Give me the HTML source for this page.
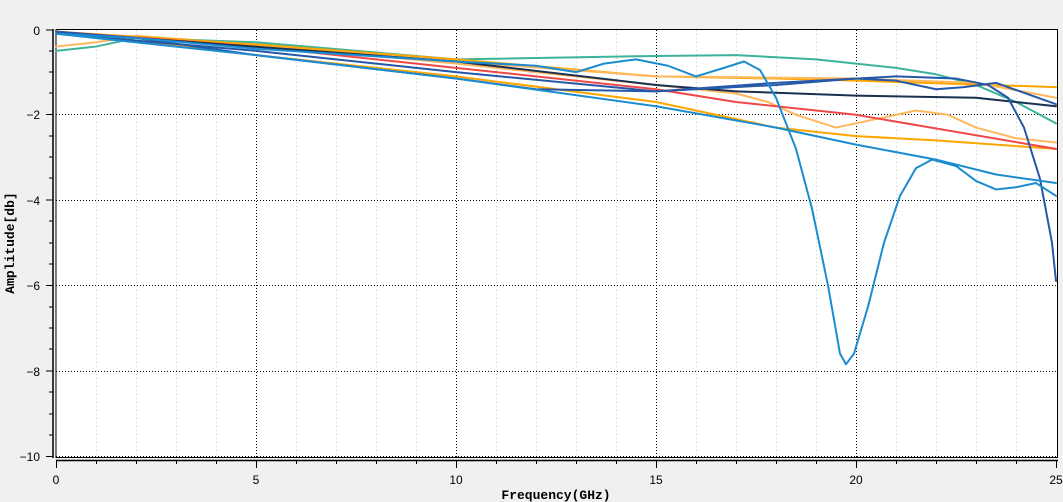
<!DOCTYPE html>
<html><head><meta charset="utf-8"><style>
html,body{margin:0;padding:0;background:#f0f0f0;}
svg{display:block;font-family:"Liberation Mono",monospace;}
.c{fill:none;stroke-width:2;vector-effect:non-scaling-stroke;stroke-linejoin:round;stroke-linecap:round;}
</style></head><body>
<svg width="1063" height="502" xmlns="http://www.w3.org/2000/svg">
<rect x="56" y="29" width="1002" height="429" fill="#fff"/>
<g stroke="#c8c8c8" stroke-width="1" stroke-dasharray="1,3">
<line x1="96.5" y1="30" x2="96.5" y2="457"/><line x1="136.5" y1="30" x2="136.5" y2="457"/><line x1="176.5" y1="30" x2="176.5" y2="457"/><line x1="216.5" y1="30" x2="216.5" y2="457"/>
<line x1="296.5" y1="30" x2="296.5" y2="457"/><line x1="336.5" y1="30" x2="336.5" y2="457"/><line x1="376.5" y1="30" x2="376.5" y2="457"/><line x1="416.5" y1="30" x2="416.5" y2="457"/>
<line x1="496.5" y1="30" x2="496.5" y2="457"/><line x1="536.5" y1="30" x2="536.5" y2="457"/><line x1="576.5" y1="30" x2="576.5" y2="457"/><line x1="616.5" y1="30" x2="616.5" y2="457"/>
<line x1="696.5" y1="30" x2="696.5" y2="457"/><line x1="736.5" y1="30" x2="736.5" y2="457"/><line x1="776.5" y1="30" x2="776.5" y2="457"/><line x1="816.5" y1="30" x2="816.5" y2="457"/>
<line x1="896.5" y1="30" x2="896.5" y2="457"/><line x1="936.5" y1="30" x2="936.5" y2="457"/><line x1="976.5" y1="30" x2="976.5" y2="457"/><line x1="1016.5" y1="30" x2="1016.5" y2="457"/>
</g>
<g stroke="#000" stroke-width="1" stroke-dasharray="1,2">
<line x1="256.5" y1="30" x2="256.5" y2="457"/><line x1="456.5" y1="30" x2="456.5" y2="457"/><line x1="656.5" y1="30" x2="656.5" y2="457"/><line x1="856.5" y1="30" x2="856.5" y2="457"/>
<line x1="56" y1="114.5" x2="1057" y2="114.5"/><line x1="56" y1="200.5" x2="1057" y2="200.5"/><line x1="56" y1="285.5" x2="1057" y2="285.5"/><line x1="56" y1="371.5" x2="1057" y2="371.5"/>
<line x1="56" y1="456.5" x2="1057" y2="456.5"/>
</g>
<rect x="56" y="29.5" width="1001.5" height="428" fill="none" stroke="#000" stroke-width="1"/>
<g transform="translate(56,29.5) scale(40,-42.65)">
<polyline class="c" stroke="#ffb860" points="0,-0.4 1,-0.3 2,-0.15 5,-0.35 10,-0.8 15,-1.3 17,-1.5 17.8,-1.7 18.5,-2.0 19.5,-2.3 20.5,-2.1 21.5,-1.9 22.3,-2.0 23,-2.3 24,-2.55 25,-2.65"/>
<polyline class="c" stroke="#3cb39a" points="0,-0.5 1,-0.4 2,-0.2 5,-0.3 10,-0.7 15,-0.62 17,-0.6 19,-0.7 21,-0.9 22,-1.05 23,-1.3 24,-1.7 25,-2.2"/>
<polyline class="c" stroke="#ffa500" points="0,-0.05 5,-0.35 10,-0.7 15,-1.1 18,-1.15 20,-1.2 25,-1.35"/>
<polyline class="c" stroke="#ffa500" points="0,-0.05 5,-0.6 10,-1.1 15,-1.7 18,-2.3 20,-2.5 22,-2.6 25,-2.8"/>
<polyline class="c" stroke="#ffb860" points="0,-0.05 5,-0.4 10,-0.75 15,-1.1 20,-1.15 23,-1.25 25,-1.6"/>
<polyline class="c" stroke="#f04848" points="0,-0.05 5,-0.4 10,-0.9 15,-1.4 17,-1.7 20,-2.0 25,-2.8"/>
<polyline class="c" stroke="#1a3050" points="0,-0.1 2,-0.2 10,-0.75 15,-1.3 17,-1.45 20,-1.55 23,-1.6 25,-1.8"/>
<polyline class="c" stroke="#2558a8" points="0,-0.05 2,-0.2 5,-0.6 10,-1.15 12,-1.4 15,-1.45 18,-1.25 21,-1.1 22.5,-1.15 23.3,-1.3 23.8,-1.6 24.2,-2.3 24.6,-3.5 24.9,-5.0 25,-5.9"/>
<polyline class="c" stroke="#2558a8" points="0,-0.1 5,-0.5 10,-1.0 15,-1.45 18,-1.3 20,-1.15 21,-1.2 22,-1.4 22.7,-1.35 23.5,-1.25 25,-1.75"/>
<polyline class="c" stroke="#1b8cd0" points="0,-0.1 5,-0.6 10,-1.15 15,-1.8 18,-2.3 20,-2.7 22,-3.05 23.5,-3.4 25,-3.6"/>
<polyline class="c" stroke="#1b8cd0" points="0,-0.1 2,-0.2 5,-0.45 10,-0.75 12,-0.85 13,-1.0 13.7,-0.8 14.5,-0.7 15.3,-0.85 16,-1.1 16.7,-0.9 17.2,-0.75 17.6,-0.95 18,-1.6 18.5,-2.8 18.9,-4.2 19.3,-6.0 19.6,-7.6 19.75,-7.85 19.95,-7.6 20.3,-6.5 20.7,-5.0 21.1,-3.9 21.5,-3.25 21.9,-3.05 22.5,-3.2 23,-3.55 23.5,-3.75 24,-3.7 24.5,-3.6 25,-3.9"/>
</g>
<g stroke="#000" stroke-width="1.5">
<line x1="53" y1="29" x2="53" y2="458"/>
<line x1="56" y1="460.5" x2="1058" y2="460.5"/>
</g>
<g stroke="#000" stroke-width="1">
<path d="M46,30H53M46,114.5H53M46,200H53M46,285.5H53M46,371H53M46,456.5H53M49,51H53M49,72H53M49,93H53M49,136H53M49,157H53M49,178H53M49,221H53M49,243H53M49,264H53M49,307H53M49,328H53M49,349H53M49,392H53M49,414H53M49,435H53"/>
<path d="M56.5,460V468M256.5,460V468M456.5,460V468M656.5,460V468M856.5,460V468M1056.5,460V468M96.5,460V464M136.5,460V464M176.5,460V464M216.5,460V464M296.5,460V464M336.5,460V464M376.5,460V464M416.5,460V464M496.5,460V464M536.5,460V464M576.5,460V464M616.5,460V464M696.5,460V464M736.5,460V464M776.5,460V464M816.5,460V464M896.5,460V464M936.5,460V464M976.5,460V464M1016.5,460V464"/>
</g>
<g font-size="12" fill="#000" text-anchor="end" font-family="Liberation Sans,sans-serif">
<text x="40" y="35">0</text><text x="40" y="119">−2</text><text x="40" y="205">−4</text><text x="40" y="290">−6</text><text x="40" y="376">−8</text><text x="40" y="461">−10</text>
</g>
<g font-size="12" fill="#000" text-anchor="middle" font-family="Liberation Sans,sans-serif">
<text x="56" y="484">0</text><text x="256" y="484">5</text><text x="456" y="484">10</text><text x="656" y="484">15</text><text x="856" y="484">20</text><text x="1056" y="484">25</text>
</g>
<text x="556" y="499" font-size="13" font-weight="bold" text-anchor="middle">Frequency(GHz)</text>
<text transform="translate(14,243) rotate(-90)" font-size="13" font-weight="bold" text-anchor="middle">Amplitude[db]</text>
</svg>
</body></html>
